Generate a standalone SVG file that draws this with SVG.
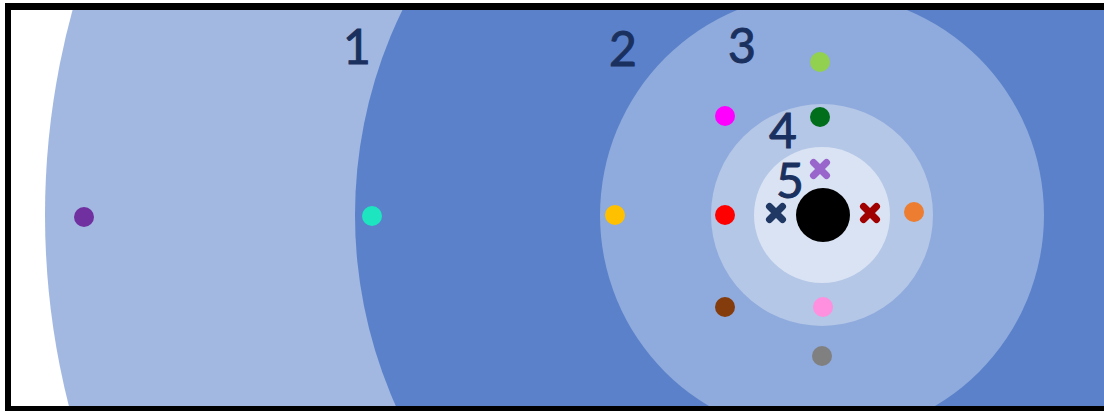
<svg xmlns="http://www.w3.org/2000/svg" width="1104" height="412" viewBox="0 0 1104 412">
  <defs>
    <clipPath id="frame"><rect x="10" y="9" width="1094" height="398"/></clipPath>
    <path id="xmark" d="M-6.5,-6.5 L6.5,6.5 M6.5,-6.5 L-6.5,6.5" fill="none" stroke-width="7" stroke-linecap="round"/>
  </defs>
  <style>
    .lbl { font-family: Lato, "Open Sans", sans-serif; font-size: 48px; fill: #1A305E; stroke: #1A305E; stroke-width: 1; text-anchor: middle; }
  </style>
  <rect x="0" y="0" width="1104" height="412" fill="#ffffff"/>
  <g id="rings" clip-path="url(#frame)">
    <circle cx="822" cy="215" r="777" fill="#A2B8E1"/>
    <circle cx="822" cy="215" r="467" fill="#5A81C9"/>
    <circle cx="822" cy="215" r="222" fill="#8FAADC"/>
    <circle cx="822" cy="215" r="111" fill="#B4C7E7"/>
    <circle cx="822" cy="215" r="68" fill="#DAE3F3"/>
    <circle cx="823" cy="215" r="27" fill="#000000"/>
  </g>
  <g id="labels">
    <text class="lbl" x="357" y="64">1</text>
    <text class="lbl" x="623" y="66">2</text>
    <text class="lbl" x="742" y="63">3</text>
    <text class="lbl" x="783" y="148">4</text>
    <text class="lbl" x="790" y="198">5</text>
  </g>
  <g id="dots">
    <circle cx="84" cy="217" r="10" fill="#7030A0"/>
    <circle cx="372" cy="216" r="10" fill="#1DE5C0"/>
    <circle cx="615" cy="215" r="10" fill="#FFC000"/>
    <circle cx="725" cy="215" r="10" fill="#FF0000"/>
    <circle cx="725" cy="116" r="10" fill="#FF00FF"/>
    <circle cx="820" cy="62" r="10" fill="#92D050"/>
    <circle cx="820" cy="117" r="10" fill="#006E1A"/>
    <circle cx="725" cy="307" r="10" fill="#843C0C"/>
    <circle cx="823" cy="307" r="10" fill="#FF8FDF"/>
    <circle cx="822" cy="356" r="10" fill="#808080"/>
    <circle cx="914" cy="212" r="10" fill="#ED7D31"/>
  </g>
  <g id="crosses">
    <use href="#xmark" x="776" y="213" stroke="#203864"/>
    <use href="#xmark" x="820" y="169" stroke="#9966CC"/>
    <use href="#xmark" x="870" y="213" stroke="#A00000"/>
  </g>
  <g id="border" fill="#000000">
    <rect x="5" y="3" width="1099" height="7"/>
    <rect x="5" y="3" width="6" height="408"/>
    <rect x="5" y="406" width="1099" height="5"/>
  </g>
</svg>
